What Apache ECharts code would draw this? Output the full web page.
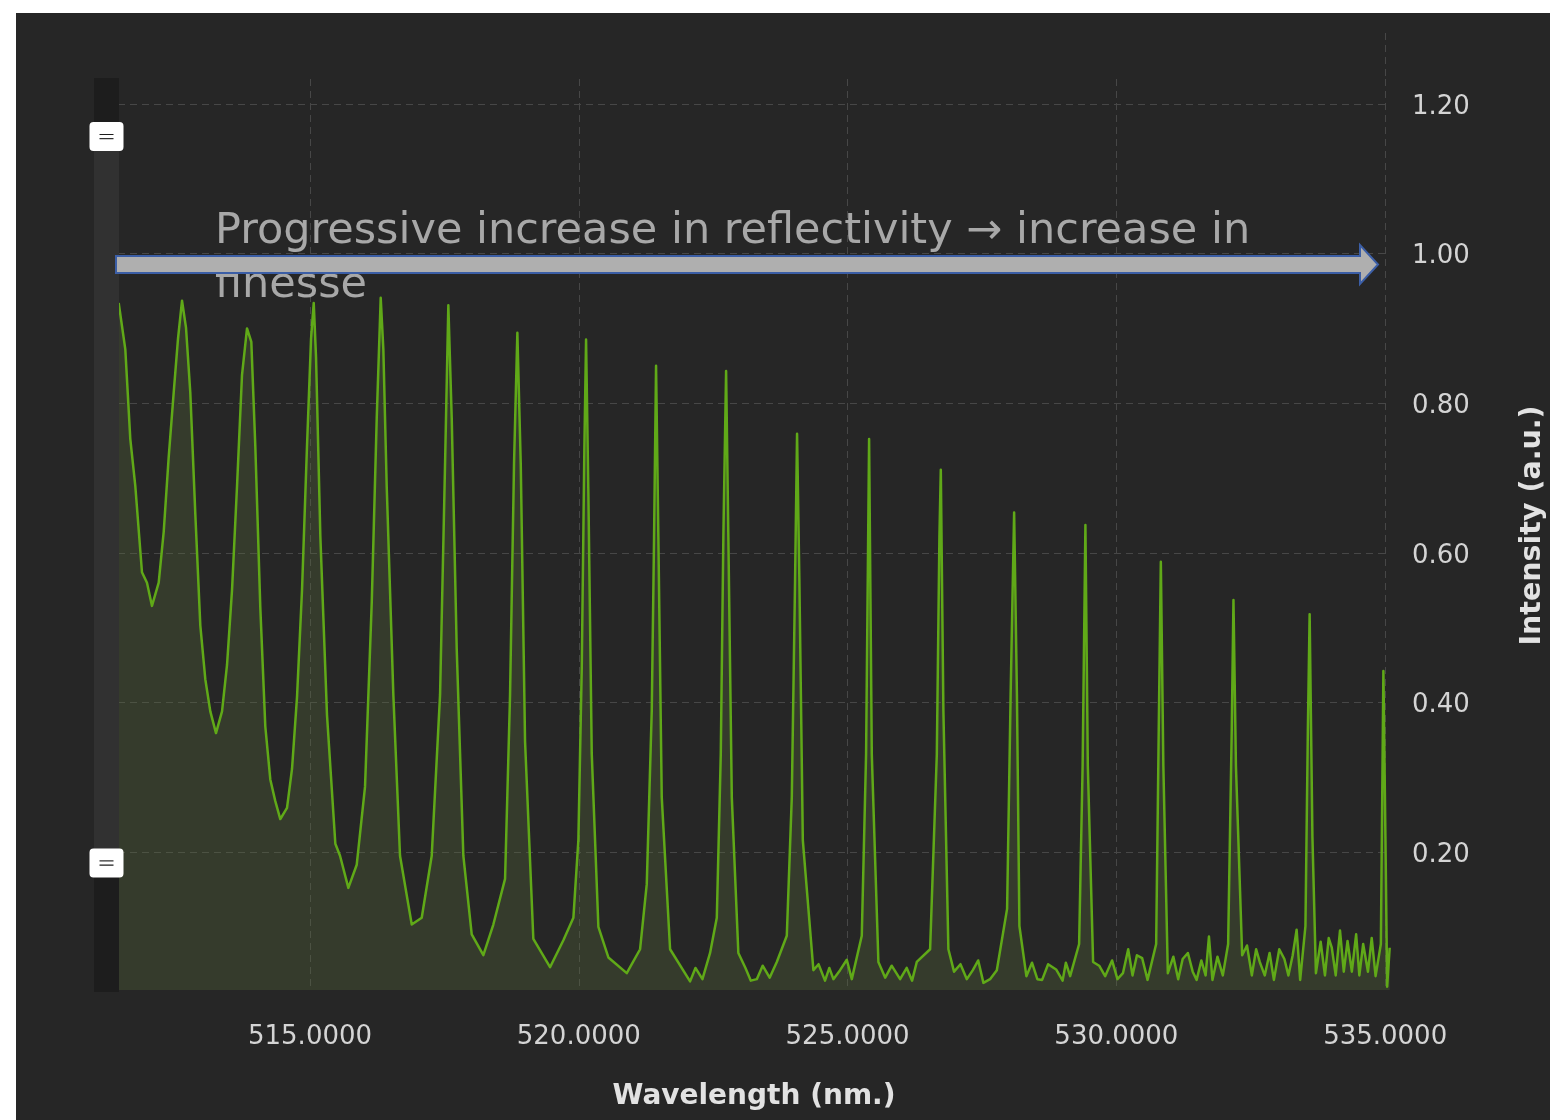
<!DOCTYPE html>
<html>
<head>
<meta charset="utf-8">
<script src="https://cdn.jsdelivr.net/npm/echarts@6/dist/echarts.min.js"></script>
<style>
html,body{margin:0;padding:0;background:#ffffff;width:1550px;height:1120px;overflow:hidden;}
#chart{position:absolute;left:16px;top:13px;width:1534px;height:1107px;}
</style>
</head>
<body>
<div id="chart"></div>
<script>
// Tick values
const xTicks = [515, 520, 525, 530, 535];
const yTicks = [0.2, 0.4, 0.6, 0.8, 1.0, 1.2];

// Spectrum: [wavelength nm, intensity a.u.]
const broadFringes = [
  [511.441,0.934],[511.564,0.872],[511.657,0.752],[511.750,0.689],[511.874,0.574],[511.967,0.560],
  [512.060,0.529],[512.185,0.560],[512.278,0.628],[512.371,0.728],[512.464,0.814],[512.544,0.886],
  [512.619,0.937],[512.693,0.901],[512.773,0.814],[512.866,0.652],[512.959,0.503],[513.052,0.431],
  [513.145,0.388],[513.251,0.359],[513.363,0.388],[513.456,0.450],[513.549,0.550],[513.642,0.689],
  [513.735,0.838],[513.828,0.900],[513.908,0.882],[513.982,0.743],[514.075,0.527],[514.168,0.368],
  [514.261,0.297],[514.354,0.268],[514.447,0.244],[514.572,0.259],[514.665,0.311],[514.758,0.407],
  [514.851,0.550],[514.944,0.743],[515.019,0.886],[515.069,0.934],[515.112,0.861],[515.192,0.622],
  [515.316,0.383],[515.471,0.211],[515.558,0.195],
  [515.713,0.152],[515.869,0.183],[516.023,0.287],[516.148,0.533],[516.241,0.780],[516.315,0.941],
  [516.364,0.872],[516.427,0.688],[516.550,0.410],[516.674,0.195],[516.892,0.103],[517.078,0.112],
  [517.264,0.195],[517.419,0.410],[517.512,0.719],[517.573,0.931],[517.636,0.780],[517.729,0.471],
  [517.852,0.195],[518.008,0.090],[518.224,0.062],[518.410,0.103],[518.628,0.164],[518.721,0.410],
  [518.795,0.719],[518.857,0.894],[518.920,0.719],[519.000,0.348],[519.154,0.084],[519.465,0.046]
];
const midFringes = [
  [519.713,0.082],[519.899,0.112],[519.992,0.216],[520.055,0.447],[520.103,0.737],[520.135,0.885],
  [520.178,0.680],[520.241,0.331],[520.364,0.100],[520.550,0.059],[520.892,0.038],[521.140,0.070],
  [521.264,0.157],[521.357,0.389],[521.400,0.621],[521.437,0.850],[521.480,0.621],[521.543,0.273],
  [521.698,0.070],[522.070,0.027],[522.170,0.045],[522.300,0.030],[522.442,0.065],[522.567,0.112],
  [522.641,0.331],[522.689,0.621],[522.740,0.843],[522.782,0.621],[522.846,0.273],[522.968,0.065],
  [523.100,0.045],[523.200,0.028],[523.311,0.030],[523.420,0.048],[523.550,0.032],[523.683,0.053],
  [523.869,0.088],[523.962,0.273],[524.023,0.564],[524.060,0.759],[524.103,0.564],[524.167,0.216],
  [524.364,0.042],[524.460,0.050],[524.580,0.028],[524.660,0.045],[524.736,0.030],[524.860,0.042],
  [524.985,0.056],[525.078,0.030],[525.264,0.088],[525.344,0.331],[525.400,0.752],[525.450,0.331],
  [525.573,0.053],[525.700,0.032],[525.820,0.048],[525.977,0.030],[526.100,0.045],[526.200,0.028],
  [526.287,0.053],[526.535,0.070],[526.660,0.331],[526.708,0.621],[526.734,0.711],[526.782,0.389],
  [526.875,0.070],[526.980,0.040],[527.100,0.050],[527.218,0.030]
];
const sharpFringes = [
  [527.330,0.042],[527.430,0.055],[527.527,0.025],[527.650,0.030],[527.776,0.042],[527.967,0.124],
  [528.033,0.411],[528.098,0.654],[528.150,0.411],[528.196,0.101],[528.326,0.034],[528.430,0.052],
  [528.530,0.030],[528.619,0.029],[528.730,0.050],[528.879,0.043],[529.000,0.028],[529.060,0.052],
  [529.140,0.034],[529.307,0.077],[529.372,0.315],[529.424,0.637],[529.469,0.315],[529.567,0.053],
  [529.680,0.048],[529.791,0.034],[529.920,0.055],[530.020,0.030],[530.122,0.038],[530.220,0.070],
  [530.300,0.035],[530.382,0.062],[530.480,0.058],[530.580,0.029],[530.740,0.077],[530.788,0.363],
  [530.827,0.588],[530.874,0.315],[530.957,0.038],[531.060,0.060],[531.150,0.030],[531.233,0.057],
  [531.330,0.065],[531.420,0.040],[531.493,0.029],[531.580,0.055],[531.660,0.035],[531.722,0.087],
  [531.787,0.029],[531.880,0.060],[531.980,0.035],[532.079,0.077],[532.146,0.363],[532.178,0.537],
  [532.224,0.315],[532.340,0.062],[532.430,0.075],[532.520,0.035],[532.600,0.070],[532.667,0.053],
  [532.760,0.035],[532.850,0.065],[532.930,0.029],[533.030,0.070],[533.125,0.057],[533.200,0.035],
  [533.280,0.062],[533.353,0.096],[533.419,0.029],[533.517,0.101],[533.562,0.363],[533.595,0.518],
  [533.647,0.220],[533.712,0.038],[533.800,0.080],[533.880,0.035],[533.950,0.085],[534.007,0.072],
  [534.080,0.035],[534.160,0.095],[534.230,0.040],[534.300,0.081],[534.380,0.040],[534.460,0.090],
  [534.520,0.035],[534.591,0.077],[534.680,0.040],[534.750,0.085],[534.822,0.034],[534.920,0.077],
  [534.967,0.442],[535.005,0.220],[535.037,0.020],[535.084,0.072]
];

const spectrum = broadFringes.concat(midFringes, sharpFringes).sort((a, b) => a[0] - b[0]);

const chart = echarts.init(document.getElementById('chart'), null, {renderer: 'canvas'});

const gridLine = {show: true, lineStyle: {color: '#474747', width: 1, type: [7, 5]}};
const handlePath = 'path://M4,0H25Q29,0 29,4V30Q29,34 25,34H4Q0,34 0,30V4Q0,0 4,0Z' +
  'M11.8,10V24H13V10Z M16,10V24H17.2V10Z';

const option = {
  backgroundColor: '#262626',
  animation: false,
  grid: {left: 102, right: 160, top: 66, bottom: 130, containLabel: false, outerBoundsMode: 'none'},
  xAxis: {
    type: 'value',
    min: 511.428,
    max: 535.09,
    axisLine: {show: false},
    axisTick: {show: false, customValues: xTicks},
    axisLabel: {
      customValues: xTicks,
      formatter: v => v.toFixed(4),
      color: '#d4d4d4',
      fontSize: 26,
      fontFamily: 'DejaVu Sans',
      margin: 34
    },
    splitLine: gridLine,
    name: 'Wavelength (nm.)',
    nameLocation: 'middle',
    nameGap: 93,
    nameTextStyle: {color: '#e2e2e2', fontSize: 28, fontWeight: 'bold', fontFamily: 'DejaVu Sans'}
  },
  yAxis: [{
    type: 'value',
    position: 'right',
    min: 0.0155,
    max: 1.2334,
    axisLine: {show: false},
    axisTick: {show: false, customValues: yTicks},
    axisLabel: {
      customValues: yTicks,
      formatter: v => '{t|' + v.toFixed(2) + '}',
      margin: 22,
      rich: {
        t: {color: '#d4d4d4', fontSize: 26, fontFamily: 'DejaVu Sans', padding: [6, 0, 0, 0]}
      }
    },
    splitLine: gridLine,
    name: 'Intensity (a.u.)',
    nameLocation: 'middle',
    nameRotate: 90,
    nameGap: 128,
    nameTextStyle: {color: '#e2e2e2', fontSize: 28.5, fontWeight: 'bold', fontFamily: 'DejaVu Sans', padding: [0, 0, 0, 18]}
  }, {
    type: 'value',
    show: false,
    min: 0,
    max: 100
  }],
  dataZoom: [{
    type: 'slider',
    orient: 'vertical',
    yAxisIndex: 1,
    filterMode: 'none',
    left: 78,
    top: 65,
    width: 25,
    bottom: 128,
    start: 14,
    end: 93.7,
    backgroundColor: '#1d1d1d',
    fillerColor: '#313131',
    borderColor: 'transparent',
    borderRadius: 0,
    showDetail: false,
    showDataShadow: false,
    brushSelect: false,
    moveHandleSize: 0,
    moveHandleStyle: {opacity: 0},
    handleIcon: handlePath,
    handleSize: '136%',
    handleStyle: {color: '#ffffff', borderWidth: 0, borderColor: 'transparent', shadowBlur: 0},
    dataBackground: {lineStyle: {opacity: 0}, areaStyle: {opacity: 0}},
    selectedDataBackground: {lineStyle: {opacity: 0}, areaStyle: {opacity: 0}},
    emphasis: {
      handleStyle: {color: '#ffffff', borderWidth: 0, borderColor: 'transparent'},
      moveHandleStyle: {opacity: 0}
    }
  }],
  series: [{
    type: 'line',
    data: spectrum,
    showSymbol: false,
    symbol: 'none',
    smooth: false,
    lineStyle: {color: '#60a918', width: 2.5, join: 'round'},
    areaStyle: {color: 'rgba(91,108,61,0.3)', opacity: 1, origin: 'start'},
    z: 2
  }],
  graphic: [{
    type: 'line',
    z: 1,
    shape: {x1: 1369.5, y1: 20, x2: 1369.5, y2: 66},
    style: {stroke: '#474747', lineWidth: 1, lineDash: [7, 5]}
  }, {
    type: 'text',
    x: 199,
    y: 192,
    z: 100,
    style: {
      text: 'Progressive increase in reflectivity \u2192 increase in\nfinesse',
      fill: '#a8a8a8',
      fontSize: 43,
      fontFamily: 'DejaVu Sans',
      lineHeight: 54,
      verticalAlign: 'top'
    }
  }, {
    type: 'polygon',
    z: 101,
    shape: {points: [[100,243],[1344,243],[1344,232],[1362,251.5],[1344,271],[1344,260],[100,260]]},
    style: {fill: '#afafaf', stroke: '#3b5ea6', lineWidth: 2}
  }]
};

chart.setOption(option);
</script>
</body>
</html>
